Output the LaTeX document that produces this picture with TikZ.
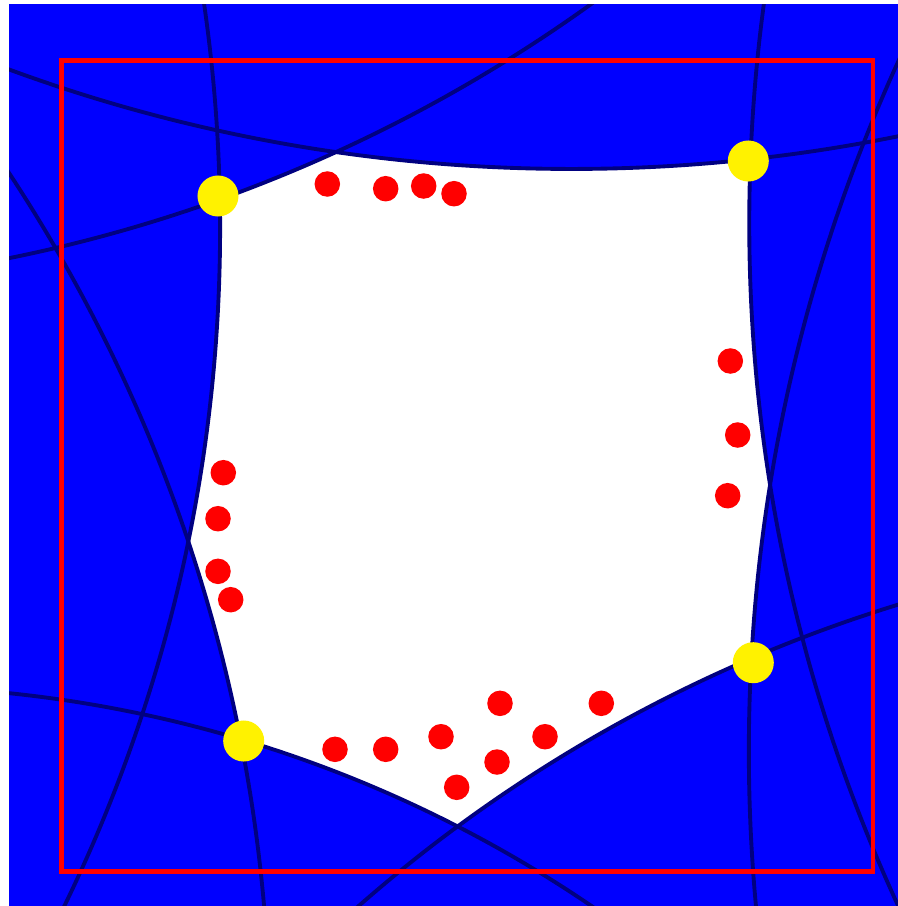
\documentclass[tikz,border=0pt]{standalone}
\definecolor{navyc}{RGB}{0,0,128}
\definecolor{bluec}{RGB}{0,0,255}
\tikzset{
  navyline/.style={draw=navyc, line width=1.1pt},
  framebox/.style={draw=red, line width=1.3pt},
  ydot/.style={circle, fill=yellow, inner sep=0pt, minimum size=0.41cm},
  rdot/.style={circle, fill=red, inner sep=0pt, minimum size=0.255cm}
}
\begin{document}
\begin{tikzpicture}[x=0.01cm,y=-0.01cm]
\useasboundingbox (0,0) rectangle (898,906);
\fill[white] (9,4) rectangle (898,906);
\begin{scope}
  \clip (9,4) rectangle (898,906);
  \fill[bluec]
    (571.5,-1463.6) circle[radius=16.316cm]
    (-1331.6,227.6) circle[radius=15.508cm]
    (-1321,1046.8) circle[radius=15.903cm]
    (-123.3,1958.7) circle[radius=12.716cm]
    (-293.3,-1229.4) circle[radius=15.168cm]
    (2383.3,223.35) circle[radius=16.331cm]
    (2411.3,751.2) circle[radius=16.615cm]
    (1331.6,2015.9) circle[radius=14.751cm];
  \draw[navyline] (571.5,-1463.6) circle[radius=16.316cm];
  \draw[navyline] (-1331.6,227.6) circle[radius=15.508cm];
  \draw[navyline] (-1321,1046.8) circle[radius=15.903cm];
  \draw[navyline] (-123.3,1958.7) circle[radius=12.716cm];
  \draw[navyline] (-293.3,-1229.4) circle[radius=15.168cm];
  \draw[navyline] (2383.3,223.35) circle[radius=16.331cm];
  \draw[navyline] (2411.3,751.2) circle[radius=16.615cm];
  \draw[navyline] (1331.6,2015.9) circle[radius=14.751cm];
\end{scope}
\draw[framebox] (61.7,60.7) rectangle (873,871.7);
% yellow points
\node[ydot] (y1) at (218,196) {};
\node[ydot] (y2) at (748.3,161) {};
\node[ydot] (y3) at (753.3,662.7) {};
\node[ydot] (y4) at (243.7,741) {};
% red points
\node[rdot] (r1) at (327.3,184) {};
\node[rdot] (r2) at (385.7,188.7) {};
\node[rdot] (r3) at (423.7,186) {};
\node[rdot] (r4) at (454,193.7) {};
\node[rdot] (r5) at (730.3,361) {};
\node[rdot] (r6) at (737.7,435) {};
\node[rdot] (r7) at (727.7,495.7) {};
\node[rdot] (r8) at (223.3,472.7) {};
\node[rdot] (r9) at (218,518.7) {};
\node[rdot] (r10) at (218,571.3) {};
\node[rdot] (r11) at (230.7,599.7) {};
\node[rdot] (r12) at (335,749.3) {};
\node[rdot] (r13) at (385.7,749.3) {};
\node[rdot] (r14) at (441,736.7) {};
\node[rdot] (r15) at (500,703.3) {};
\node[rdot] (r16) at (601.3,703.3) {};
\node[rdot] (r17) at (545,736.7) {};
\node[rdot] (r18) at (497,762) {};
\node[rdot] (r19) at (456.7,787.3) {};
\end{tikzpicture}
\end{document}
